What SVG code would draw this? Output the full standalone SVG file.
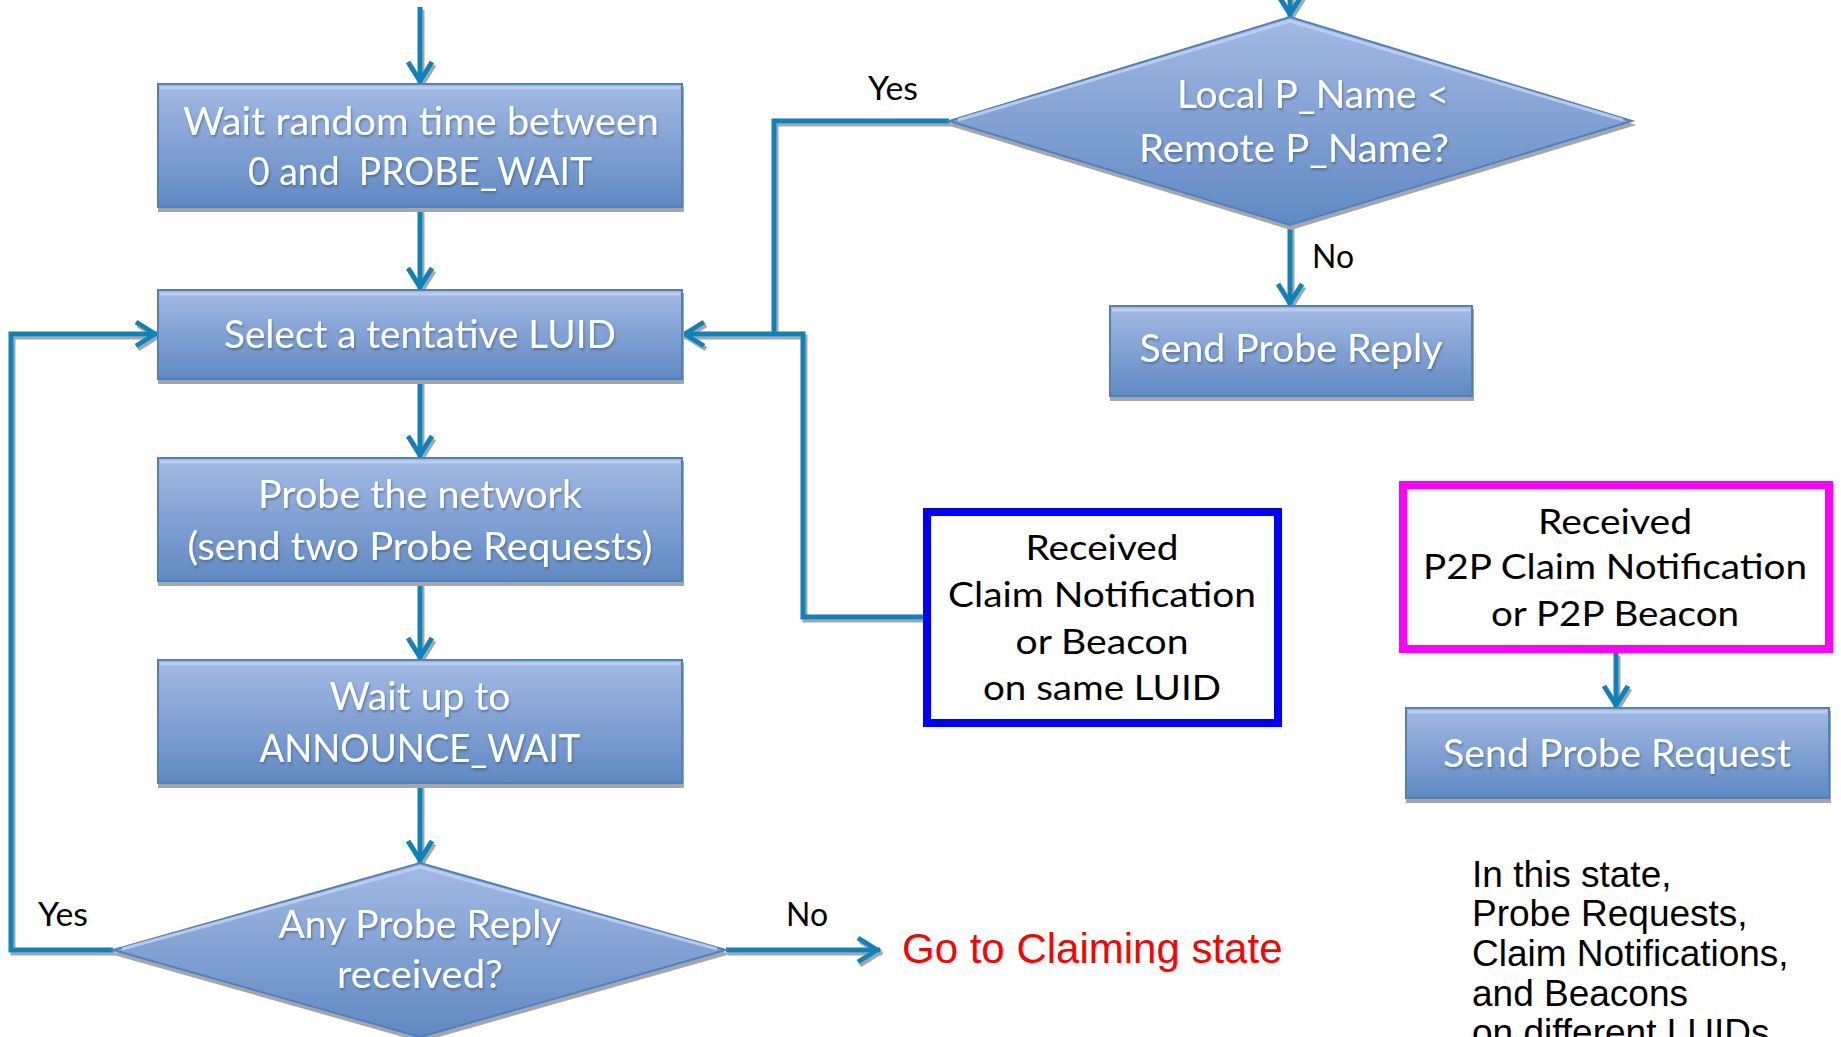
<svg xmlns="http://www.w3.org/2000/svg" width="1841" height="1037" viewBox="0 0 1841 1037">
<style>
.bx{fill:url(#gr);stroke:#4f81bd;stroke-width:2}
.hl{fill:none;stroke:#bfd1f1;stroke-width:3;opacity:.85}
.wt{font-family:Lato,"Open Sans",sans-serif;font-size:38px;fill:#fff;text-anchor:middle}
.bt{font-family:Lato,"Open Sans",sans-serif;font-size:35px;fill:#000;text-anchor:middle}
.lb{font-family:Lato,"Open Sans",sans-serif;font-size:32px;fill:#000}
.c{fill:none;stroke:#0b84b9;stroke-width:5}
.note{font-family:"Liberation Sans",Arial,sans-serif;font-size:37px;fill:#000}
.red{font-family:"Liberation Sans",Arial,sans-serif;font-size:42px;fill:#ff0000}
</style>
<defs>
<linearGradient id="gr" x1="0" y1="0" x2="0" y2="1">
<stop offset="0" stop-color="#a3bae3"/>
<stop offset="1" stop-color="#6089c3"/>
</linearGradient>
<filter id="sh" x="-5%" y="-10%" width="110%" height="130%">
<feFlood flood-color="#a6a6a6" result="f"/>
<feComposite in="f" in2="SourceAlpha" operator="in" result="s"/>
<feOffset in="s" dx="1" dy="4" result="o"/>
<feMerge><feMergeNode in="o"/><feMergeNode in="SourceGraphic"/></feMerge>
</filter>
<filter id="csh" x="-5%" y="-5%" width="110%" height="110%">
<feFlood flood-color="#a6a6a6" result="f"/>
<feComposite in="f" in2="SourceAlpha" operator="in" result="s"/>
<feOffset in="s" dx="2" dy="3" result="o"/>
<feMerge><feMergeNode in="o"/><feMergeNode in="SourceGraphic"/></feMerge>
</filter>
<filter id="ts" x="-10%" y="-30%" width="120%" height="160%">
<feGaussianBlur in="SourceAlpha" stdDeviation="1.2" result="b"/>
<feOffset in="b" dx="1" dy="2" result="o"/>
<feFlood flood-color="#2f4f80" flood-opacity="0.55" result="f"/>
<feComposite in="f" in2="o" operator="in" result="s"/>
<feMerge><feMergeNode in="s"/><feMergeNode in="SourceGraphic"/></feMerge>
</filter>
<marker id="ah" markerUnits="userSpaceOnUse" orient="auto" markerWidth="40" markerHeight="40" refX="0" refY="0" viewBox="-30 -20 40 40" overflow="visible">
<path d="M-22,-12 L-3,0 L-22,12" fill="none" stroke="#0b84b9" stroke-width="5" stroke-linejoin="miter"/>
</marker>
</defs>

<g id="connectors" filter="url(#csh)">
<path class="c" d="M420,7 V84" marker-end="url(#ah)"/>
<path class="c" d="M420,207 V290" marker-end="url(#ah)"/>
<path class="c" d="M420,379 V458" marker-end="url(#ah)"/>
<path class="c" d="M420,581 V660" marker-end="url(#ah)"/>
<path class="c" d="M420,783 V863" marker-end="url(#ah)"/>
<path class="c" d="M113,950 H11 V334 H158" marker-end="url(#ah)"/>
<path class="c" d="M726,950 H880" marker-end="url(#ah)"/>
<path class="c" d="M949,121 H774 V334"/>
<path class="c" d="M923,617 H803 V334 H682" marker-end="url(#ah)"/>
<path class="c" d="M1290,-5 V17" marker-end="url(#ah)"/>
<path class="c" d="M1290,225 V306" marker-end="url(#ah)"/>
<path class="c" d="M1616,653 V708" marker-end="url(#ah)"/>
</g>

<g id="labels">
<text class="lb" x="868" y="100" textLength="50" lengthAdjust="spacingAndGlyphs">Yes</text>
<text class="lb" x="1312" y="268" textLength="42" lengthAdjust="spacingAndGlyphs">No</text>
<text class="lb" x="38" y="926" textLength="50" lengthAdjust="spacingAndGlyphs">Yes</text>
<text class="lb" x="786" y="926" textLength="42" lengthAdjust="spacingAndGlyphs">No</text>
</g>

<g id="wait-random">
<rect class="bx" x="158" y="84" width="524" height="123" filter="url(#sh)"/>
<line class="hl" x1="160" y1="88" x2="680" y2="88"/>
<g filter="url(#ts)">
<text class="wt" x="421" y="135" textLength="476" lengthAdjust="spacingAndGlyphs">Wait random time between</text>
<text class="wt" x="420" y="185" textLength="344" lengthAdjust="spacingAndGlyphs" xml:space="preserve">0 and  PROBE_WAIT</text>
</g>
</g>

<g id="select-luid">
<rect class="bx" x="158" y="290" width="524" height="89" filter="url(#sh)"/>
<line class="hl" x1="160" y1="294" x2="680" y2="294"/>
<text class="wt" x="420" y="348" textLength="392" lengthAdjust="spacingAndGlyphs" filter="url(#ts)">Select a tentative LUID</text>
</g>

<g id="probe-network">
<rect class="bx" x="158" y="458" width="524" height="123" filter="url(#sh)"/>
<line class="hl" x1="160" y1="462" x2="680" y2="462"/>
<g filter="url(#ts)">
<text class="wt" x="420" y="508" textLength="324" lengthAdjust="spacingAndGlyphs">Probe the network</text>
<text class="wt" x="420" y="560" textLength="465" lengthAdjust="spacingAndGlyphs">(send two Probe Requests)</text>
</g>
</g>

<g id="wait-announce">
<rect class="bx" x="158" y="660" width="524" height="123" filter="url(#sh)"/>
<line class="hl" x1="160" y1="664" x2="680" y2="664"/>
<g filter="url(#ts)">
<text class="wt" x="420" y="710" textLength="181" lengthAdjust="spacingAndGlyphs">Wait up to</text>
<text class="wt" x="420" y="762" textLength="321" lengthAdjust="spacingAndGlyphs">ANNOUNCE_WAIT</text>
</g>
</g>

<g id="any-reply">
<polygon class="bx" points="420,863 726,950 420,1037 113,950" filter="url(#sh)"/>
<polyline class="hl" points="122,949 420,867 717,949"/>
<g filter="url(#ts)">
<text class="wt" x="420" y="938" textLength="283" lengthAdjust="spacingAndGlyphs">Any Probe Reply</text>
<text class="wt" x="420" y="988" textLength="166" lengthAdjust="spacingAndGlyphs">received?</text>
</g>
</g>

<g id="compare-name">
<polygon class="bx" points="1290,17 1632,121 1290,225 949,121" filter="url(#sh)"/>
<polyline class="hl" points="958,120 1290,21 1623,120"/>
<g filter="url(#ts)">
<text class="wt" x="1313" y="108" textLength="272" lengthAdjust="spacingAndGlyphs">Local P_Name &lt;</text>
<text class="wt" x="1294" y="162" textLength="310" lengthAdjust="spacingAndGlyphs">Remote P_Name?</text>
</g>
</g>

<g id="send-reply">
<rect class="bx" x="1110" y="306" width="362" height="90" filter="url(#sh)"/>
<line class="hl" x1="1112" y1="310" x2="1470" y2="310"/>
<text class="wt" x="1291" y="362" textLength="303" lengthAdjust="spacingAndGlyphs" filter="url(#ts)">Send Probe Reply</text>
</g>

<g id="received-claim">
<rect x="927" y="512" width="351" height="211" fill="#fff" stroke="#0000ff" stroke-width="8"/>
<text class="bt" x="1102" y="560" textLength="153" lengthAdjust="spacingAndGlyphs">Received</text>
<text class="bt" x="1102" y="607" textLength="308" lengthAdjust="spacingAndGlyphs">Claim Notification</text>
<text class="bt" x="1102" y="654" textLength="173" lengthAdjust="spacingAndGlyphs">or Beacon</text>
<text class="bt" x="1102" y="700" textLength="238" lengthAdjust="spacingAndGlyphs">on same LUID</text>
</g>

<g id="received-p2p">
<rect x="1403" y="485" width="426" height="164" fill="#fff" stroke="#ff00ff" stroke-width="8"/>
<text class="bt" x="1615" y="534" textLength="154" lengthAdjust="spacingAndGlyphs">Received</text>
<text class="bt" x="1615" y="579" textLength="384" lengthAdjust="spacingAndGlyphs">P2P Claim Notification</text>
<text class="bt" x="1615" y="626" textLength="248" lengthAdjust="spacingAndGlyphs">or P2P Beacon</text>
</g>

<g id="send-request">
<rect class="bx" x="1406" y="708" width="423" height="90" filter="url(#sh)"/>
<line class="hl" x1="1408" y1="712" x2="1827" y2="712"/>
<text class="wt" x="1617" y="767" textLength="348" lengthAdjust="spacingAndGlyphs" filter="url(#ts)">Send Probe Request</text>
</g>

<g id="claiming">
<text class="red" x="902" y="963">Go to Claiming state</text>
</g>

<g id="note">
<text class="note" x="1472" y="887">In this state,</text>
<text class="note" x="1472" y="926">Probe Requests,</text>
<text class="note" x="1472" y="966">Claim Notifications,</text>
<text class="note" x="1472" y="1006">and Beacons</text>
<text class="note" x="1472" y="1045">on different LUIDs</text>
</g>
</svg>
